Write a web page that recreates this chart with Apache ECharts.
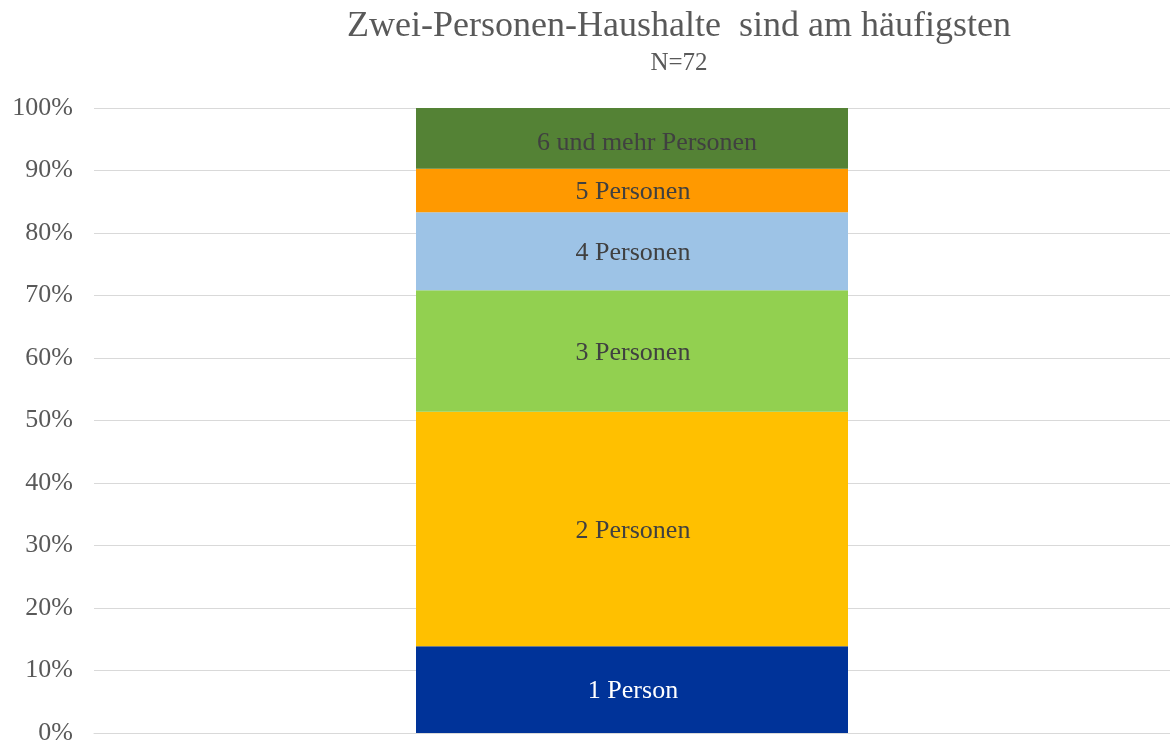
<!DOCTYPE html>
<html>
<head>
<meta charset="utf-8">
<script src="https://cdn.jsdelivr.net/npm/echarts@6/dist/echarts.min.js"></script>
<style>
  html, body { margin: 0; padding: 0; background: #fff; }
  #chart { width: 1170px; height: 747px; }
</style>
</head>
<body>
<div id="chart"></div>
<script>
const SERIES_NAMES = ['1 Person', '2 Personen', '3 Personen', '4 Personen', '5 Personen', '6 und mehr Personen'];
const SERIES_SHARES = [13.89, 37.50, 19.44, 12.50, 6.94, 9.72];
const SERIES_COLORS = ['#003399', '#FFC000', '#92D050', '#9DC3E6', '#FF9900', '#548235'];
const LABEL_COLORS = ['#ffffff', '#404040', '#404040', '#404040', '#404040', '#404040'];
const CATEGORIES = [''];

const FONT = '"Liberation Serif", "Times New Roman", serif';

const chart = echarts.init(document.getElementById('chart'), null, { renderer: 'canvas' });

const series = SERIES_NAMES.map((name, i) => ({
    name: name,
    type: 'bar',
    stack: 'total',
    barWidth: 432,
    data: [SERIES_SHARES[i]],
    itemStyle: { color: SERIES_COLORS[i] },
    label: {
        show: true,
        position: 'inside',
        formatter: name,
        color: LABEL_COLORS[i],
        fontFamily: FONT,
        fontSize: 26,
        // the top label sits a bit right/low in the original
        offset: i === 5 ? [15, 5] : [1, 2]
    }
}));

chart.setOption({
    animation: false,
    title: {
        text: 'Zwei-Personen-Haushalte  sind am häufigsten',
        subtext: 'N=72',
        left: 674,
        textAlign: 'center',
        top: 4,
        itemGap: 6,
        textStyle: { fontFamily: FONT, fontSize: 36, fontWeight: 'normal', color: '#595959' },
        subtextStyle: { fontFamily: FONT, fontSize: 25, color: '#595959' }
    },
    grid: { left: 94, right: -2, top: 108, bottom: 14, containLabel: false },
    xAxis: {
        type: 'category',
        data: CATEGORIES,
        axisLine: { show: true, lineStyle: { color: '#d9d9d9' } },
        axisTick: { show: false },
        axisLabel: { show: false }
    },
    yAxis: {
        type: 'value',
        min: 0,
        max: 100,
        interval: 10,
        axisLine: { show: false },
        axisTick: { show: false },
        splitLine: { lineStyle: { color: '#d9d9d9', width: 1 } },
        axisLabel: {
            formatter: '{value}%',
            color: '#595959',
            fontFamily: FONT,
            fontSize: 26,
            margin: 21
        }
    },
    series: series
});
</script>
</body>
</html>
